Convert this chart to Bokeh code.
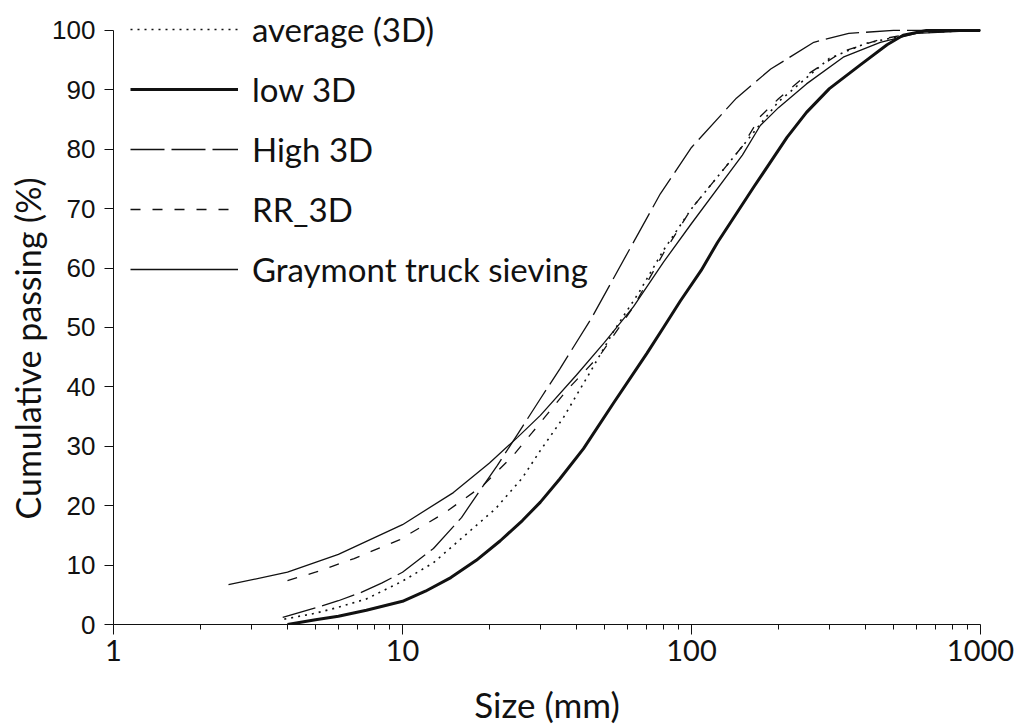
from bokeh.plotting import figure
from bokeh.models import Range1d, FixedTicker, Legend, LegendItem, Title
from bokeh.embed import file_html
from bokeh.resources import INLINE

# ---- data ----
size_avg = [3.9, 5, 6, 7.5, 10, 12.8, 16, 21, 26, 30, 36, 44, 54, 66, 80, 100, 150, 200, 300, 400, 600, 1000]
pass_avg = [0.9, 1.9, 2.9, 4.3, 7.3, 10.4, 14.5, 19.5, 24.7, 29.3, 34.8, 42, 49.5, 56, 63, 70, 80.5, 88, 95.3, 97.8, 99.6, 100]

size_low = [4, 5, 6, 7.5, 10, 12, 14.7, 18, 21.8, 26, 30, 35, 42.3, 53.6, 70, 80, 91.6, 108, 123, 164, 214, 250, 300, 384, 475, 540, 650, 1000]
pass_low = [0, 0.8, 1.4, 2.4, 3.9, 5.6, 7.9, 10.8, 14.1, 17.5, 20.6, 24.5, 29.6, 37.2, 45.6, 50, 54.5, 59.6, 64.3, 73.6, 82.0, 86.2, 90.2, 94.2, 97.6, 99.2, 100, 100]

size_high = [3.85, 5, 6, 7.2, 8.5, 10, 12.8, 16, 18.2, 21.3, 25, 30, 35, 45, 60, 78, 100, 143, 188, 265, 350, 500, 1000]
pass_high = [1.2, 2.8, 4.0, 5.4, 7.0, 8.8, 12.8, 18.0, 22.0, 26.8, 32.0, 38.0, 43.0, 51.5, 62.5, 72.5, 80.3, 88.6, 93.5, 98.0, 99.5, 100, 100]

size_rr = [4, 5, 6.8, 9.8, 13.9, 19, 24, 28, 37, 48.5, 63, 80, 100, 150, 173, 200, 250, 335, 450, 600, 1000]
pass_rr = [7.4, 8.8, 11.1, 14.3, 18.7, 23.4, 28.3, 32.2, 39.4, 45.5, 53.5, 62.5, 70, 80.5, 85.5, 88.5, 92.5, 96.5, 98.5, 99.6, 100]

size_gray = [2.5, 4, 6, 10, 15, 20, 25, 30, 40, 50, 63, 80, 100, 150, 173, 200, 250, 335, 450, 600, 1000]
pass_gray = [6.7, 8.8, 11.8, 16.8, 22.2, 27.2, 31.5, 35.2, 42, 47.5, 53.5, 61, 67.5, 79, 84, 87, 91, 95.5, 98, 99.5, 100]

series_labels = ["average (3D)", "low 3D", "High 3D", "RR_3D", "Graymont truck sieving"]

x_ticks = [1, 10, 100, 1000]
x_tick_labels = ["1", "10", "100", "1000"]
x_minor = [2, 3, 4, 5, 6, 7, 8, 9, 20, 30, 40, 50, 60, 70, 80, 90, 200, 300, 400, 500, 600, 700, 800, 900]
y_ticks = [0, 10, 20, 30, 40, 50, 60, 70, 80, 90, 100]

x_title = "Size (mm)"
y_title = "Cumulative passing (%)"

# ---- figure ----
p = figure(width=1021, height=727, x_axis_type="log",
           x_range=Range1d(1, 1000), y_range=Range1d(0, 104.7),
           output_backend="svg", toolbar_location=None,
           min_border_left=113, min_border_right=41,
           min_border_top=2, min_border_bottom=103)
p.outline_line_color = None
p.grid.visible = False

ink = "#111111"
r_avg = p.line(size_avg, pass_avg, line_color=ink, line_width=1.6, line_dash="2 5")
r_low = p.line(size_low, pass_low, line_color=ink, line_width=3)
r_high = p.line(size_high, pass_high, line_color=ink, line_width=1.3, line_dash="34 7")
r_rr = p.line(size_rr, pass_rr, line_color=ink, line_width=1.3, line_dash="10 12")
r_gray = p.line(size_gray, pass_gray, line_color=ink, line_width=1.3)

renderers = [r_avg, r_low, r_high, r_rr, r_gray]
legend = Legend(items=[LegendItem(label=l, renderers=[r]) for l, r in zip(series_labels, renderers)],
                location=(17, 333), padding=0, margin=0, spacing=16,
                glyph_width=108, glyph_height=44, label_height=44, label_standoff=14,
                border_line_color=None, background_fill_alpha=0,
                label_text_font="Lato", label_text_font_size="33px", label_text_color=ink)
p.add_layout(legend)

xa = p.xaxis[0]
xa.ticker = FixedTicker(ticks=x_ticks, minor_ticks=x_minor)
xa.major_label_overrides = {t: l for t, l in zip(x_ticks, x_tick_labels)}
xa.bounds = (1, 1000)
xa.major_tick_out = 10
xa.major_tick_in = 0
xa.minor_tick_out = 5
xa.minor_tick_in = 0
xa.major_label_standoff = 5
xa.major_label_text_font = "Lato"
xa.major_label_text_font_size = "29px"
xa.major_label_text_color = ink
xa.axis_label = x_title
xa.axis_label_text_font = "Lato"
xa.axis_label_text_font_size = "35px"
xa.axis_label_text_font_style = "normal"
xa.axis_label_text_color = ink
xa.axis_label_standoff = 19
xa.axis_line_color = ink
xa.major_tick_line_color = ink
xa.minor_tick_line_color = ink

ya = p.yaxis[0]
ya.ticker = FixedTicker(ticks=y_ticks)
ya.bounds = (0, 100)
ya.major_tick_out = 9
ya.major_tick_in = 0
ya.minor_tick_line_color = None
ya.major_label_standoff = 9
ya.major_label_text_font = "Liberation Sans"
ya.major_label_text_font_size = "26px"
ya.major_label_text_color = ink
ya.axis_line_color = ink
ya.major_tick_line_color = ink

yt = Title(text=y_title, align="left", offset=105, standoff=3,
           text_font="Lato", text_font_size="34px", text_font_style="normal",
           text_color=ink)
p.add_layout(yt, "left")

open("out.html", "w").write(file_html(p, INLINE))
